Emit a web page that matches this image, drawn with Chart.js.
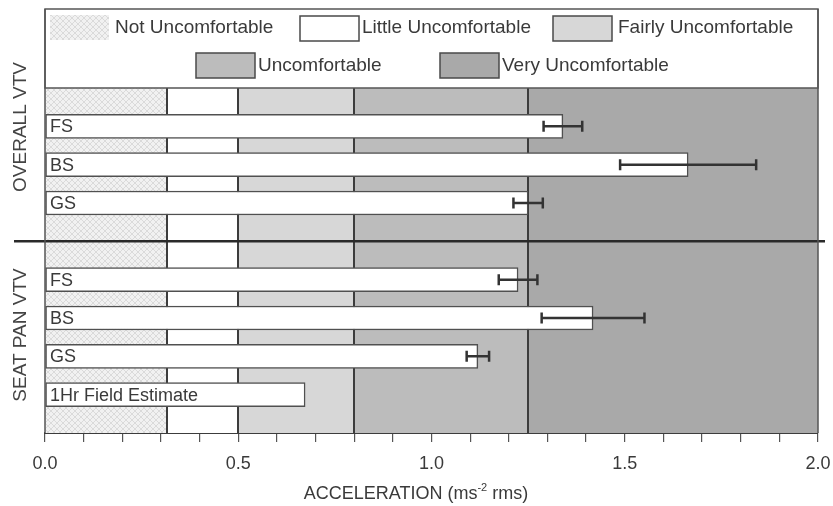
<!DOCTYPE html>
<html>
<head>
<meta charset="utf-8">
<script src="https://cdn.jsdelivr.net/npm/chart.js@4.4.0/dist/chart.umd.min.js"></script>
<style>
  html, body { margin: 0; padding: 0; background: #ffffff; }
  #wrap { width: 833px; height: 506px; position: relative; }
</style>
</head>
<body>
<div id="wrap"><canvas id="c" width="833" height="506"></canvas></div>
<script>
// ---- data ----
const categories = ['', 'FS', 'BS', 'GS', '', 'FS', 'BS', 'GS', '1Hr Field Estimate', ''];
const groupLabels = ['OVERALL VTV', 'SEAT PAN VTV'];
const meanValues = [null, 1.34, 1.664, 1.25, null, 1.224, 1.418, 1.12, 0.673, null];
const errorValues = [null, 0.05, 0.176, 0.038, null, 0.05, 0.133, 0.029, null, null];
const bandNames = ['Not Uncomfortable', 'Little Uncomfortable', 'Fairly Uncomfortable', 'Uncomfortable', 'Very Uncomfortable'];
const bandEdges = [0, 0.315, 0.5, 0.8, 1.25, 2.0];
const xTickLabels = ['0.0', '0.5', '1.0', '1.5', '2.0'];
const separatorIndex = 4;

// ---- styles ----
const FONT = '"Liberation Sans", Arial, sans-serif';
const TEXT = '#3a3a3a';
const LINE = '#3c3c3c';

function hatchPattern(ctx) {
  const c = document.createElement('canvas');
  c.width = 6; c.height = 6;
  const g = c.getContext('2d');
  g.fillStyle = '#f1f1f1';
  g.fillRect(0, 0, 6, 6);
  g.strokeStyle = '#dadada';
  g.lineWidth = 1;
  g.beginPath();
  g.moveTo(0, 0); g.lineTo(6, 6);
  g.moveTo(6, 0); g.lineTo(0, 6);
  g.stroke();
  return ctx.createPattern(c, 'repeat');
}

const canvas = document.getElementById('c');
const ctx0 = canvas.getContext('2d');
const bandFills = [hatchPattern(ctx0), '#ffffff', '#d7d7d7', '#bcbcbc', '#a9a9a9'];

const bandsPlugin = {
  id: 'bands',
  beforeDatasetsDraw(chart) {
    const { ctx, chartArea: a, scales: { x } } = chart;
    ctx.save();
    for (let i = 0; i < bandNames.length; i++) {
      const x0 = x.getPixelForValue(bandEdges[i]);
      const x1 = x.getPixelForValue(bandEdges[i + 1]);
      ctx.fillStyle = bandFills[i];
      ctx.fillRect(x0, a.top, x1 - x0, a.bottom - a.top);
    }
    ctx.strokeStyle = LINE;
    ctx.lineWidth = 2;
    for (let i = 1; i < bandEdges.length - 1; i++) {
      const px = Math.round(x.getPixelForValue(bandEdges[i]));
      ctx.beginPath();
      ctx.moveTo(px, a.top);
      ctx.lineTo(px, a.bottom);
      ctx.stroke();
    }
    ctx.restore();
  },
  afterDatasetsDraw(chart) {
    const { ctx, chartArea: a, scales: { x, y } } = chart;
    const meta = chart.getDatasetMeta(0);
    ctx.save();
    // error bars
    ctx.strokeStyle = '#333333';
    ctx.lineWidth = 2.5;
    meanValues.forEach((v, i) => {
      const e = errorValues[i];
      if (v == null || e == null) return;
      const py = y.getPixelForValue(i);
      const xl = x.getPixelForValue(v - e);
      const xr = x.getPixelForValue(v + e);
      ctx.beginPath();
      ctx.moveTo(xl, py); ctx.lineTo(xr, py);
      ctx.moveTo(xl, py - 5.5); ctx.lineTo(xl, py + 5.5);
      ctx.moveTo(xr, py - 5.5); ctx.lineTo(xr, py + 5.5);
      ctx.stroke();
    });
    // bar labels
    ctx.fillStyle = TEXT;
    ctx.font = '18px ' + FONT;
    ctx.textBaseline = 'middle';
    ctx.textAlign = 'left';
    meta.data.forEach((el, i) => {
      if (meanValues[i] == null) return;
      ctx.fillText(categories[i], a.left + 5, el.y + 1);
    });
    // separator line
    const sy = y.getPixelForValue(separatorIndex);
    ctx.strokeStyle = '#2a2a2a';
    ctx.lineWidth = 2.5;
    ctx.beginPath();
    ctx.moveTo(14, sy); ctx.lineTo(825, sy);
    ctx.stroke();
    ctx.restore();
  },
  afterDraw(chart) {
    const { ctx, chartArea: a } = chart;
    ctx.save();
    // legend box
    const top = 9;
    ctx.fillStyle = '#ffffff';
    ctx.fillRect(a.left, top, a.right - a.left, a.top - top);
    ctx.strokeStyle = '#555555';
    ctx.lineWidth = 1.5;
    ctx.strokeRect(a.left, top, a.right - a.left, a.top - top);
    // frame
    ctx.beginPath();
    ctx.moveTo(a.left, top); ctx.lineTo(a.left, a.bottom);
    ctx.moveTo(a.right, top); ctx.lineTo(a.right, a.bottom);
    ctx.stroke();
    // legend items
    const items = [
      { sx: 50, sy: 15, tx: 115, ty: 28, border: false },
      { sx: 300, sy: 16, tx: 362, ty: 28, border: true },
      { sx: 553, sy: 16, tx: 618, ty: 28, border: true },
      { sx: 196, sy: 53, tx: 258, ty: 66, border: true },
      { sx: 440, sy: 53, tx: 502, ty: 66, border: true }
    ];
    ctx.font = '19px ' + FONT;
    ctx.textBaseline = 'middle';
    ctx.textAlign = 'left';
    items.forEach((it, i) => {
      ctx.fillStyle = bandFills[i];
      ctx.fillRect(it.sx, it.sy, 59, 25);
      if (it.border) {
        ctx.strokeStyle = '#4a4a4a';
        ctx.lineWidth = 1.5;
        ctx.strokeRect(it.sx, it.sy, 59, 25);
      }
      ctx.fillStyle = TEXT;
      ctx.fillText(bandNames[i], it.tx, it.ty);
    });
    // group labels (rotated)
    ctx.font = '19px ' + FONT;
    ctx.textAlign = 'center';
    const gy = [127, 335];
    groupLabels.forEach((g, i) => {
      ctx.save();
      ctx.translate(21, gy[i]);
      ctx.rotate(-Math.PI / 2);
      ctx.fillStyle = '#444444';
      ctx.fillText(g, 0, 0);
      ctx.restore();
    });
    // axis title with superscript
    const cx = 416;
    const ty = 499;
    const p1 = 'ACCELERATION (ms', p2 = '-2', p3 = ' rms)';
    ctx.textAlign = 'left';
    ctx.textBaseline = 'alphabetic';
    ctx.font = '18px ' + FONT;
    const w1 = ctx.measureText(p1).width, w3 = ctx.measureText(p3).width;
    ctx.font = '11px ' + FONT;
    const w2 = ctx.measureText(p2).width;
    const sx = cx - (w1 + w2 + w3) / 2;
    ctx.fillStyle = TEXT;
    ctx.font = '18px ' + FONT;
    ctx.fillText(p1, sx, ty);
    ctx.font = '11px ' + FONT;
    ctx.fillText(p2, sx + w1, ty - 8);
    ctx.font = '18px ' + FONT;
    ctx.fillText(p3, sx + w1 + w2, ty);
    ctx.restore();
  }
};

new Chart(canvas, {
  type: 'bar',
  data: {
    labels: categories,
    datasets: [{
      data: meanValues,
      backgroundColor: '#ffffff',
      borderColor: '#505050',
      borderWidth: 1.5,
      borderSkipped: false,
      barThickness: 24
    }]
  },
  options: {
    indexAxis: 'y',
    responsive: false,
    animation: false,
    devicePixelRatio: 1,
    layout: { padding: { left: 45, right: 15, top: 88, bottom: 0 } },
    plugins: { legend: { display: false }, tooltip: { enabled: false }, title: { display: false } },
    scales: {
      y: {
        type: 'category',
        display: false,
        offset: false,
        grid: { offset: false }
      },
      x: {
        type: 'linear',
        min: 0,
        max: 2,
        afterFit(scale) {
          scale.height = 73;
          scale.paddingLeft = 0;
          scale.paddingRight = 0;
        },
        border: { display: true, color: LINE, width: 2 },
        grid: { drawOnChartArea: false, drawTicks: true, tickLength: 9, color: '#555555', lineWidth: 1.2 },
        ticks: {
          stepSize: 0.1,
          autoSkip: false,
          maxRotation: 0,
          padding: 11,
          color: TEXT,
          font: { family: FONT, size: 18 },
          callback(value) {
            const k = value * 2;
            if (Math.abs(k - Math.round(k)) < 1e-6) return xTickLabels[Math.round(k)];
            return '';
          }
        }
      }
    }
  },
  plugins: [bandsPlugin]
});
</script>
</body>
</html>
